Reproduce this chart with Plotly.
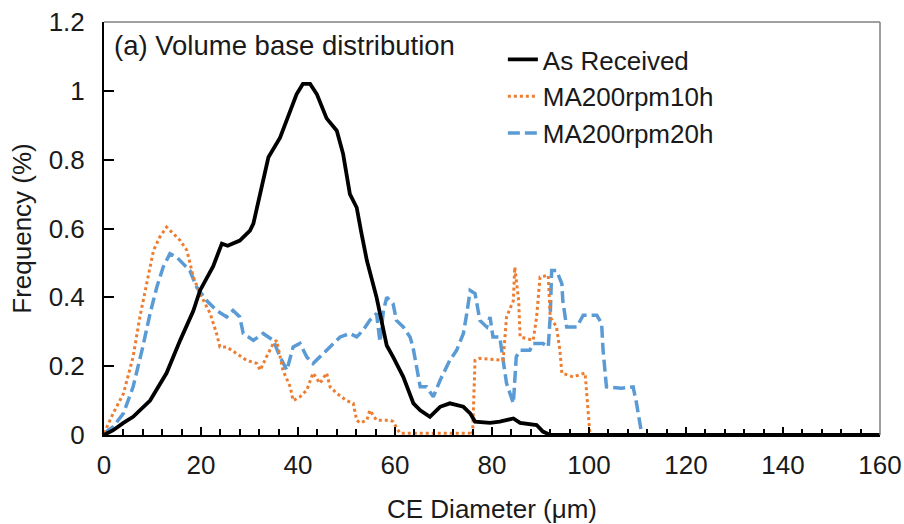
import plotly.graph_objects as go

# ---- data ----
ar_x = [0, 1.9, 4, 6.0, 9.5, 12.9, 15.7, 18.4, 19.8, 22.5, 24.3, 25.5, 28, 30.1, 30.8, 32.2, 33.9,
        36.3, 37.7, 39.7, 41, 42.5, 43.9, 45.9, 48, 49.3, 50.7, 52.1, 53.1, 54.2, 56.2, 57.6, 58.3,
        59.6, 61.7, 63.8, 65.2, 67.2, 69.3, 71.3, 74.1, 75.5, 76.5, 79.6, 81.6, 84.4, 85.8, 89.2,
        90.5, 92, 160]
ar_y = [0, 0.014, 0.035, 0.053, 0.10, 0.18, 0.275, 0.36, 0.42, 0.49, 0.556, 0.55, 0.565, 0.594,
        0.614, 0.70, 0.807, 0.864, 0.913, 0.99, 1.02, 1.02, 0.99, 0.92, 0.884, 0.817, 0.70, 0.661,
        0.585, 0.507, 0.40, 0.314, 0.26, 0.227, 0.169, 0.092, 0.072, 0.053, 0.082, 0.092, 0.082,
        0.063, 0.039, 0.035, 0.039, 0.048, 0.035, 0.029, 0.01, 0, 0]

m10_x = [0, 1.9, 4, 6, 7.4, 8.8, 10.2, 11.5, 12.9, 14.3, 15.7, 17.1, 18.4, 19.8, 21.9, 23.2, 23.9,
         25.3, 27.4, 29.4, 31.5, 32.2, 33.5, 34.9, 35.6, 36.3, 36.9, 38.4, 39.0, 40.4, 41.8, 43.1,
         44.5, 45.9, 46.6, 48, 50, 51.4, 52.1, 52.8, 54.2, 54.8, 56.2, 59, 59.6, 61, 75.5, 76,
         76.5, 77.5, 82.3, 83, 84.4, 84.7, 85.5, 85.8, 88.5, 89.2, 89.9, 91.6, 92, 93.3, 94, 94.4,
         96.7, 99.2, 99.8, 100.2, 160]
m10_y = [0.005, 0.063, 0.12, 0.227, 0.343, 0.44, 0.536, 0.575, 0.604, 0.585, 0.565, 0.536, 0.46,
         0.41, 0.353, 0.295, 0.256, 0.256, 0.237, 0.217, 0.208, 0.188, 0.227, 0.266, 0.275, 0.227,
         0.188, 0.14, 0.10, 0.111, 0.13, 0.18, 0.15, 0.18, 0.14, 0.121, 0.10, 0.092, 0.043, 0.035,
         0.043, 0.072, 0.043, 0.043, 0.039, 0.005, 0.005, 0, 0.217, 0.223, 0.217, 0.343, 0.39,
         0.488, 0.39, 0.285, 0.275, 0.343, 0.459, 0.464, 0.343, 0.314, 0.246, 0.18, 0.169, 0.18,
         0.082, 0, 0]

m20_x = [0, 1.9, 4, 6, 8, 9.5, 10.9, 12.2, 13.6, 15, 16.3, 17.7, 19.1, 21.2, 23.2, 25.3, 26.6,
         28, 28.7, 30.8, 32.8, 34.9, 36.3, 37.7, 39, 40.4, 41.8, 43.1, 44.5, 45.9, 47.3, 48.7,
         50.7, 52.1, 53.4, 54.8, 56.2, 56.9, 57.6, 58.3, 59.6, 60.3, 61.7, 63.1, 63.7, 64.5, 65.2,
         66.5, 67.9, 69.3, 71.3, 72.7, 74.1, 74.8, 75.5, 76.5, 77.5, 78.9, 79.6, 80.2, 81.6, 82.3,
         83, 83.7, 84.4, 85, 85.8, 87.8, 88.5, 90.5, 91.6, 92, 92.3, 93.3, 94.4, 94.6, 95.4, 97.5,
         98.8, 101.6, 102.6, 102.9, 103.6, 106.7, 109.1, 109.8, 110.5, 110.9, 160]
m20_y = [0.005, 0.024, 0.063, 0.14, 0.256, 0.353, 0.43, 0.488, 0.527, 0.517, 0.498, 0.478, 0.43,
         0.39, 0.362, 0.343, 0.362, 0.343, 0.295, 0.275, 0.295, 0.275, 0.227, 0.188, 0.256, 0.266,
         0.227, 0.208, 0.227, 0.246, 0.266, 0.285, 0.295, 0.285, 0.304, 0.333, 0.353, 0.27, 0.36,
         0.40, 0.382, 0.333, 0.314, 0.285, 0.256, 0.198, 0.14, 0.14, 0.111, 0.159, 0.217, 0.246,
         0.295, 0.353, 0.42, 0.411, 0.333, 0.314, 0.343, 0.285, 0.285, 0.217, 0.15, 0.121, 0.092,
         0.227, 0.246, 0.246, 0.266, 0.266, 0.256, 0.343, 0.478, 0.478, 0.44, 0.39, 0.314, 0.314,
         0.348, 0.348, 0.324, 0.246, 0.14, 0.136, 0.14, 0.092, 0.035, 0, 0]

y_ticks = [0, 0.2, 0.4, 0.6, 0.8, 1.0, 1.2]
y_labels = ["0", "0.2", "0.4", "0.6", "0.8", "1", "1.2"]
x_ticks = [0, 20, 40, 60, 80, 100, 120, 140, 160]

FONT = "Liberation Sans, Arial, sans-serif"

fig = go.Figure()
fig.add_trace(go.Scatter(x=m20_x, y=m20_y, mode="lines", name="MA200rpm20h",
                         line=dict(color="#5B9BD5", width=3.5, dash="12px,5px"), legendrank=3))
fig.add_trace(go.Scatter(x=m10_x, y=m10_y, mode="lines", name="MA200rpm10h",
                         line=dict(color="#ED7D31", width=3, dash="3px,3px"), legendrank=2))
fig.add_trace(go.Scatter(x=ar_x, y=ar_y, mode="lines", name="As Received",
                         line=dict(color="black", width=3.8), legendrank=1))

fig.update_layout(
    width=904, height=524,
    margin=dict(l=104, r=24, t=22, b=89),
    paper_bgcolor="white", plot_bgcolor="white",
    font=dict(family=FONT, size=26, color="#1a1a1a"),
    showlegend=True,
    legend=dict(x=0.514, y=0.966, xanchor="left", yanchor="top",
                bgcolor="rgba(0,0,0,0)", font=dict(size=26), tracegroupgap=0,
                itemwidth=30),
    xaxis=dict(range=[0, 160], tickvals=x_ticks, showgrid=False, zeroline=False,
               automargin=False,
               showline=True, linecolor="black", linewidth=2,
               ticks="inside", ticklen=8, tickwidth=1.5, tickcolor="black",
               minor=dict(dtick=4, ticks="inside", ticklen=6, tickwidth=1.5, tickcolor="black"),
               ticklabelstandoff=6,
               title=dict(text="CE Diameter (μm)", standoff=22, font=dict(size=26))),
    yaxis=dict(range=[0, 1.2], tickvals=y_ticks, ticktext=y_labels, showgrid=False,
               automargin=False,
               zeroline=False, showline=True, linecolor="black", linewidth=2,
               ticks="inside", ticklen=10, tickwidth=1.5, tickcolor="black",
               ticklabelstandoff=12,
               title=dict(text="Frequency (%)", standoff=10, font=dict(size=26))),
    shapes=[
        dict(type="line", xref="paper", yref="paper", x0=0, x1=1, y0=1, y1=1,
             line=dict(color="#808080", width=1.5)),
        dict(type="line", xref="paper", yref="paper", x0=1, x1=1, y0=0, y1=1,
             line=dict(color="#808080", width=1.5)),
    ],
    annotations=[
        dict(text="(a) Volume base distribution", xref="paper", yref="paper",
             x=0.01, y=0.944, xanchor="left", yanchor="middle", showarrow=False,
             font=dict(size=27.5, family=FONT, color="#1a1a1a")),
    ],
)

fig.write_html("out.html")
